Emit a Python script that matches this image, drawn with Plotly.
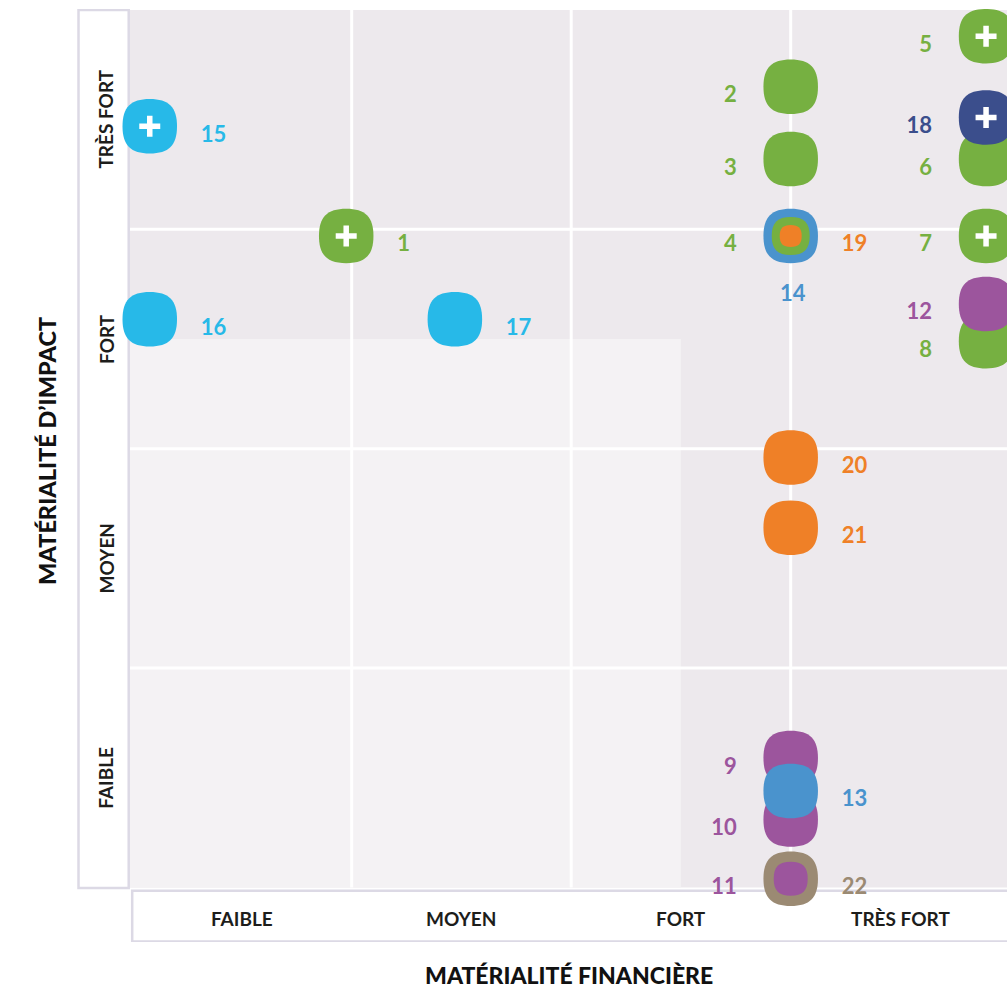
import plotly.graph_objects as go

# ---------------- data ----------------
item_ids = [1, 2, 3, 4, 5, 6, 7, 8, 9, 10, 11, 12, 13, 14, 15, 16, 17, 18, 19, 20, 21, 22]
fin_materiality = [0.975, 3.0, 3.0, 3.0, 3.89, 3.89, 3.89, 3.89, 3.0, 3.0, 3.0, 3.89,
                   3.0, 3.0, 0.08, 0.08, 1.47, 3.89, 3.0, 3.0, 3.0, 3.0]
impact_materiality = [2.97, 3.65, 3.32, 2.97, 3.88, 3.32, 2.97, 2.49, 0.59, 0.31, 0.04, 2.66,
                      0.44, 2.97, 3.47, 2.59, 2.59, 3.51, 2.97, 1.96, 1.64, 0.04]
item_group = ["E", "E", "E", "E", "E", "E", "E", "E", "S", "S", "S", "S",
              "G", "G", "C", "C", "C", "N", "O", "O", "O", "B"]
flagged_items = [1, 5, 7, 15, 18]
x_tick_labels = ["FAIBLE", "MOYEN", "FORT", "TRÈS FORT"]
y_tick_labels = ["FAIBLE", "MOYEN", "FORT", "TRÈS FORT"]
x_title = "MATÉRIALITÉ FINANCIÈRE"
y_title = "MATÉRIALITÉ D’IMPACT"

# ---------------- styles ----------------
group_colors = {"E": "#76b041", "S": "#9c559d", "G": "#4a93cd", "C": "#27b9e8",
                "N": "#3b4e8c", "O": "#ef8027", "B": "#9b8a73"}
draw_order = [15, 16, 17, 1, 2, 3, 14, 4, 19, 5, 6, 18, 7, 8, 12, 20, 21, 9, 10, 13, 22, 11]
marker_px = {4: 38, 19: 22, 11: 34}          # inner (nested) markers
default_marker_px = 54.5
label_side = {1: "R", 13: "R", 15: "R", 16: "R", 17: "R", 19: "R", 20: "R", 21: "R", 22: "R", 14: "B"}

PX_X = 219.5   # pixels per x unit
PX_Y = 219.4   # pixels per y unit
FONT = "Lato"

fig = go.Figure()
shapes = []

# backgrounds
shapes.append(dict(type="rect", xref="x", yref="y", x0=-0.01, x1=4.2, y0=0, y1=4.0,
                   fillcolor="#ede9ed", line_width=0, layer="below"))
shapes.append(dict(type="rect", xref="x", yref="y", x0=-0.01, x1=2.5, y0=0, y1=2.5,
                   fillcolor="#f4f2f4", line_width=0, layer="below"))
# grid lines
for g in [1, 2, 3]:
    shapes.append(dict(type="line", xref="x", yref="y", x0=g, x1=g, y0=0, y1=4.0,
                       line=dict(color="white", width=3), layer="below"))
    shapes.append(dict(type="line", xref="x", yref="y", x0=-0.01, x1=4.2, y0=g, y1=g,
                       line=dict(color="white", width=3), layer="below"))
# label strips
shapes.append(dict(type="rect", xref="x", yref="y", x0=-0.2446, x1=-0.0159, y0=-0.0023, y1=4.0,
                   fillcolor="white", line=dict(color="#dcd9e5", width=2.5), layer="below"))
shapes.append(dict(type="rect", xref="x", yref="y", x0=0.0, x1=4.3, y0=-0.246, y1=-0.0146,
                   fillcolor="white", line=dict(color="#dcd9e5", width=2.5), layer="below"))


def squircle(cx, cy, size_px, c=0.7):
    hx = size_px / 2 / PX_X
    hy = size_px / 2 / PX_Y
    return (f"M{cx},{cy + hy} "
            f"C{cx + c * hx},{cy + hy} {cx + hx},{cy + c * hy} {cx + hx},{cy} "
            f"C{cx + hx},{cy - c * hy} {cx + c * hx},{cy - hy} {cx},{cy - hy} "
            f"C{cx - c * hx},{cy - hy} {cx - hx},{cy - c * hy} {cx - hx},{cy} "
            f"C{cx - hx},{cy + c * hy} {cx - c * hx},{cy + hy} {cx},{cy + hy} Z")


idx = {k: i for i, k in enumerate(item_ids)}
for k in draw_order:
    i = idx[k]
    col = group_colors[item_group[i]]
    shapes.append(dict(type="path", xref="x", yref="y",
                       path=squircle(fin_materiality[i], impact_materiality[i],
                                     marker_px.get(k, default_marker_px)),
                       fillcolor=col, line_width=0, layer="below"))

# number labels
for side, pos in [("L", "middle left"), ("R", "middle right"), ("B", "middle center")]:
    xs, ys, ts, cs = [], [], [], []
    for k in item_ids:
        if label_side.get(k, "L") != side:
            continue
        i = idx[k]
        if side == "L":
            xs.append(fin_materiality[i] - 54 / PX_X)
            ys.append(impact_materiality[i] - 10 / PX_Y)
        elif side == "R":
            xs.append(fin_materiality[i] + 51 / PX_X)
            ys.append(impact_materiality[i] - 10 / PX_Y)
        else:
            xs.append(fin_materiality[i] + 2 / PX_X)
            ys.append(impact_materiality[i] - 60 / PX_Y)
        ts.append(str(k))
        cs.append(group_colors[item_group[i]])
    fig.add_trace(go.Scatter(x=xs, y=ys, text=ts, mode="text", textposition=pos,
                             textfont=dict(family=FONT, size=22, color=cs, weight=700),
                             hoverinfo="skip", showlegend=False, cliponaxis=False))

# plus signs
px_ = [fin_materiality[idx[k]] for k in flagged_items]
py_ = [impact_materiality[idx[k]] for k in flagged_items]
fig.add_trace(go.Scatter(x=px_, y=py_, mode="markers",
                         marker=dict(symbol="cross-thin", size=15, color="white",
                                     line=dict(color="white", width=5.5)),
                         hoverinfo="skip", showlegend=False))

annotations = []
for j, t in enumerate(x_tick_labels):
    annotations.append(dict(x=j + 0.5, y=-(918 - 887.5) / PX_Y, xref="x", yref="y", text=t,
                            showarrow=False, xanchor="center", yanchor="middle",
                            font=dict(family=FONT, size=19, color="#1d1d1b", weight=700)))
for j, t in enumerate(y_tick_labels):
    annotations.append(dict(x=(106 - 132.2) / PX_X, y=j + 0.5, xref="x", yref="y", text=t,
                            showarrow=False, textangle=-90, xanchor="center", yanchor="middle",
                            font=dict(family=FONT, size=19, color="#1d1d1b", weight=700)))
annotations.append(dict(x=(569 - 77) / 930, y=-(990 - 942) / 933, xref="paper", yref="paper",
                        text=x_title, showarrow=False, xanchor="center", yanchor="bottom",
                        borderpad=0,
                        font=dict(family=FONT, size=23, color="#111111", weight=900)))
annotations.append(dict(x=(47 - 77) / 930, y=(942 - 451) / 933, xref="paper", yref="paper",
                        text=y_title, showarrow=False, textangle=-90, xanchor="center",
                        yanchor="middle",
                        font=dict(family=FONT, size=23.5, color="#111111", weight=900)))

fig.update_layout(
    width=1007, height=991,
    margin=dict(l=77, r=0, t=9, b=49, pad=0),
    paper_bgcolor="white", plot_bgcolor="white",
    shapes=shapes, annotations=annotations,
    xaxis=dict(range=[(77 - 132.2) / PX_X, (1007 - 132.2) / PX_X], visible=False, fixedrange=True),
    yaxis=dict(range=[(887.5 - 942) / PX_Y, (887.5 - 9) / PX_Y], visible=False, fixedrange=True),
    showlegend=False,
)

fig.write_html("out.html")
